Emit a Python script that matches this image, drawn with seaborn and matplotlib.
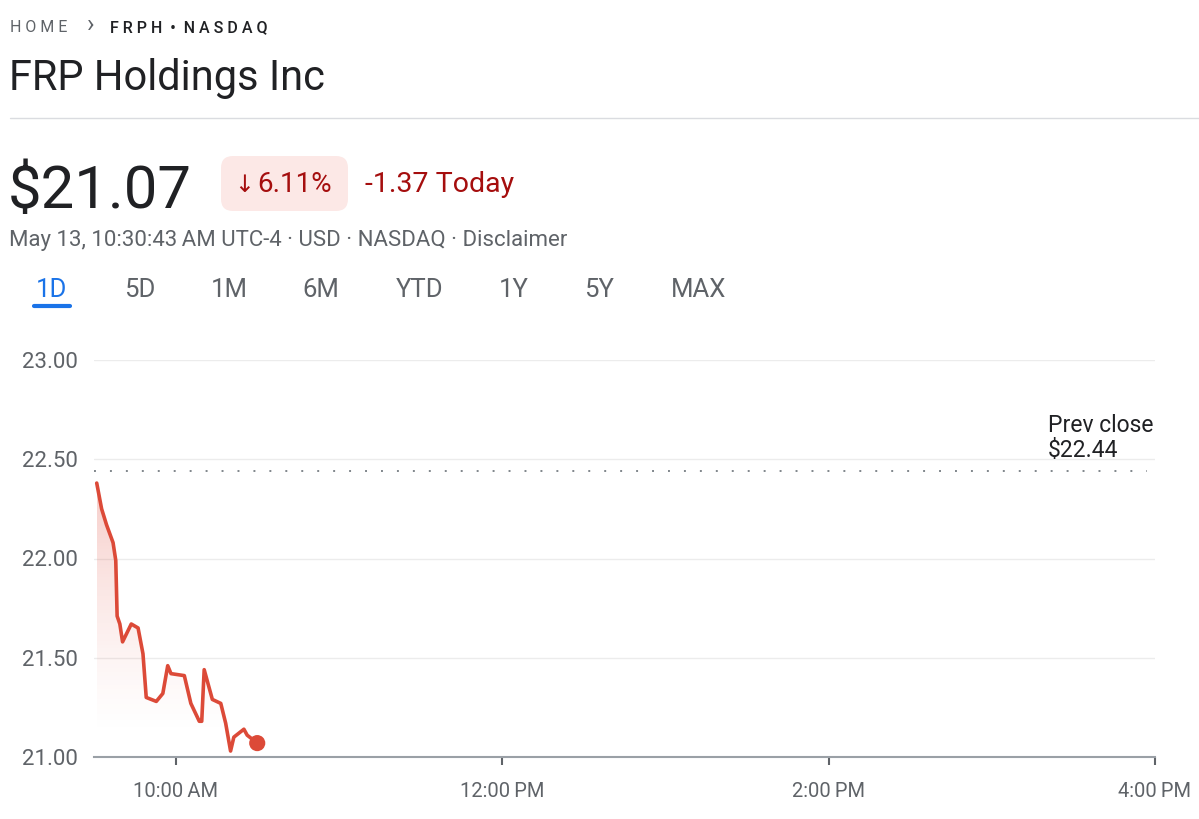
# FRPH intraday chart, Google Finance style
import matplotlib.pyplot as plt
import seaborn as sns
import numpy as np
from matplotlib.patches import FancyBboxPatch
from matplotlib.lines import Line2D
from matplotlib.transforms import IdentityTransform

# minutes after 9:30 AM and price
minutes = [1, 2.8, 4.6, 7.0, 8.0, 8.5, 9.5, 10.5, 13.7, 16.2, 18.0, 19.2, 22.9,
           25.3, 27.1, 28.3, 33.2, 35.6, 38.7, 39.6, 40.5, 43.5, 46.6, 48.4,
           50.2, 51.4, 55.1, 56.3, 60]
prices = [22.38, 22.25, 22.17, 22.08, 21.99, 21.71, 21.67, 21.58, 21.67, 21.65,
          21.52, 21.30, 21.28, 21.32, 21.46, 21.42, 21.41, 21.27, 21.18, 21.18,
          21.44, 21.29, 21.27, 21.17, 21.03, 21.10, 21.14, 21.11, 21.07]
prev_close = 22.44
y_ticks = [21.0, 21.5, 22.0, 22.5, 23.0]
x_ticks = [30, 150, 270, 390]
x_labels = ["10:00\u2009AM", "12:00\u2009PM", "2:00\u2009PM", "4:00\u2009PM"]
tabs = ["1D", "5D", "1M", "6M", "YTD", "1Y", "5Y", "MAX"]
tab_x = [52, 140, 229, 321, 420, 514, 599, 699]

W, H = 1199, 819
RED = "#dc4a38"
GRAY = "#5f6368"
DARK = "#202124"

sns.set_theme(style="white")
plt.rcParams["font.family"] = ["Roboto", "DejaVu Sans"]

fig = plt.figure(figsize=(W / 100, H / 100), dpi=100)
fig.patch.set_facecolor("white")


def px(x, y):
    return x / W, 1 - y / H


def txt(x, y, s, size, color=DARK, **kw):
    fig.text(*px(x, y), s, fontsize=size, color=color, va="baseline", **kw)


# header
txt(10, 32, "H O M E", 11.5, GRAY)
txt(87, 32, "\u203a", 18, GRAY)
txt(110, 32, "F R P H  \u2022  N A S D A Q", 11.5, DARK, fontweight="medium")
txt(9, 90, "FRP Holdings Inc", 30)
fig.add_artist(Line2D([10 / W, 1], [1 - 118 / H] * 2, color="#dadce0", lw=1))
txt(8, 208, "$21.07", 43)
fig.add_artist(FancyBboxPatch((221, H - 211), 127, 55,
                              boxstyle="round,pad=0,rounding_size=12",
                              fc="#fce8e6", ec="none",
                              transform=IdentityTransform()))
txt(234, 192, "\u2193", 17, "#a50e0e", family=["DejaVu Sans"])
txt(257, 192, "6.11%", 20, "#a50e0e")
txt(365, 192, "-1.37 Today", 20.5, "#a50e0e")
txt(9, 246, "May 13, 10:30:43\u2009AM UTC-4 \u00b7 USD \u00b7 NASDAQ \u00b7 Disclaimer", 16, GRAY)
for name, x in zip(tabs, tab_x):
    txt(x, 297, name, 18.5, "#1a73e8" if name == "1D" else GRAY, ha="center")
fig.add_artist(Line2D([34 / W, 70 / W], [1 - 306 / H] * 2, color="#1a73e8",
                      lw=3, solid_capstyle="round"))

# chart
ax = fig.add_axes([94 / W, 1 - 757 / H, (1155 - 94) / W, (757 - 360) / H])

# gradient fill under the line
grad = np.linspace(0, 1, 256) ** 1.3
rgba = np.zeros((256, 1, 4))
rgba[..., 0], rgba[..., 1], rgba[..., 2] = 0.88, 0.30, 0.24
rgba[:, 0, 3] = grad * 0.28
im = ax.imshow(rgba, extent=[minutes[0], minutes[-1], 21.1, max(prices)],
               origin="lower", aspect="auto", zorder=1)
poly = ax.fill_between(minutes, prices, 21.0, color="none", lw=0)
im.set_clip_path(poly.get_paths()[0], transform=ax.transData)

sns.lineplot(x=minutes, y=prices, ax=ax, color=RED, lw=2.6, zorder=3)
sns.scatterplot(x=[minutes[-1]], y=[prices[-1]], ax=ax, color=RED, s=135,
                edgecolor="none", zorder=4)
ax.plot([0, 387], [prev_close, prev_close], color="#80868b", lw=1.4,
        dashes=(1, 7.2), zorder=2)

ax.set_xlim(0, 390)
ax.set_ylim(21, 23)
ax.set_yticks(y_ticks)
ax.set_yticklabels([f"{v:.2f}" for v in y_ticks])
ax.set_xticks(x_ticks)
ax.set_xticklabels(x_labels)
ax.yaxis.grid(True, color="#ececec", lw=1)
ax.set_axisbelow(True)
for side in ["top", "right", "left"]:
    ax.spines[side].set_visible(False)
ax.spines["bottom"].set_color("#9aa0a6")
ax.spines["bottom"].set_linewidth(1.5)
ax.tick_params(axis="y", length=0, pad=11.5, labelsize=16, labelcolor=GRAY)
ax.tick_params(axis="x", bottom=True, length=6, width=1.5, color=GRAY,
               pad=12, labelsize=14.5, labelcolor=GRAY)

ax.text(350.7, 22.637, "Prev close", fontsize=16.5, color=DARK)
ax.text(350.7, 22.512, "$22.44", fontsize=16.5, color=DARK)

fig.savefig("out.png", dpi=100)
